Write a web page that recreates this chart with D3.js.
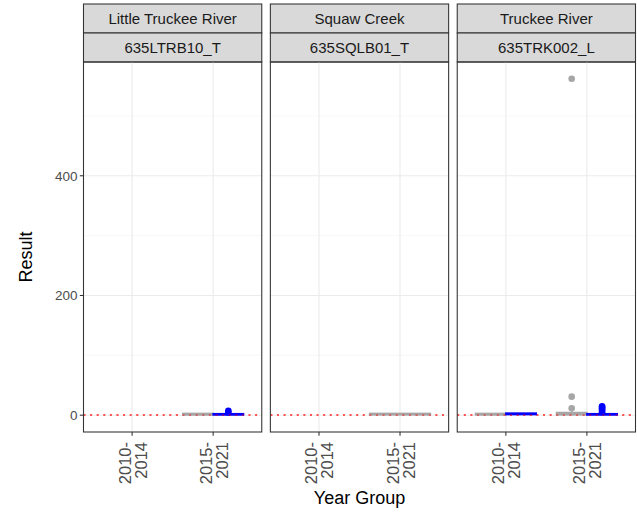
<!DOCTYPE html>
<html><head><meta charset="utf-8">
<script src="https://cdn.jsdelivr.net/npm/d3@7"></script>
<style>body{margin:0;background:#fff}svg{display:block;font-family:"Liberation Sans",Arial,sans-serif}</style>
</head><body><svg id="c" width="637" height="513"></svg>
<script>
// ---- data ----
const sites = ["Little Truckee River", "Squaw Creek", "Truckee River"];
const stations = ["635LTRB10_T", "635SQLB01_T", "635TRK002_L"];
const yearGroups = ["2010-2014", "2015-2021"];
const seriesNames = ["grey", "blue"];
const seriesColors = ["#a6a6a6", "#0000ff"];
const yTicks = [0, 200, 400];
const yMinor = [100, 300, 500];
const threshold = 0.2;
// box statistics: station, yearGroup, series, low whisker, q1, median, q3, high whisker
const boxStats = [
  ["635LTRB10_T", "2015-2021", "grey", 0.2, 0.3, 1.5, 3.0, 3.2],
  ["635LTRB10_T", "2015-2021", "blue", 0.2, 0.3, 1.0, 2.5, 3.5],
  ["635SQLB01_T", "2015-2021", "grey", 0.4, 0.5, 1.8, 3.0, 3.3],
  ["635TRK002_L", "2010-2014", "grey", 0.2, 0.3, 1.5, 3.0, 3.4],
  ["635TRK002_L", "2010-2014", "blue", 0.8, 1.0, 2.2, 3.5, 3.8],
  ["635TRK002_L", "2015-2021", "grey", 0.3, 0.5, 2.0, 4.5, 6.5],
  ["635TRK002_L", "2015-2021", "blue", 0.2, 0.3, 1.0, 2.5, 3.5]
];
// outliers: station, yearGroup, series, value
const outliers = [
  ["635LTRB10_T", "2015-2021", "blue", 4.5],
  ["635LTRB10_T", "2015-2021", "blue", 7.2],
  ["635TRK002_L", "2015-2021", "grey", 11.6],
  ["635TRK002_L", "2015-2021", "grey", 31],
  ["635TRK002_L", "2015-2021", "grey", 562],
  ["635TRK002_L", "2015-2021", "blue", 5],
  ["635TRK002_L", "2015-2021", "blue", 7.5],
  ["635TRK002_L", "2015-2021", "blue", 9.5],
  ["635TRK002_L", "2015-2021", "blue", 11.5],
  ["635TRK002_L", "2015-2021", "blue", 13.5],
  ["635TRK002_L", "2015-2021", "blue", 15]
];

// ---- layout ----
const svg = d3.select("#c");
const L = 83.5, R = 635.5, gap = 8.6;
const pw = (R - L - 2 * gap) / 3;
const stripTop = 4, stripH = 29, panelTop = 62, panelBot = 432;

const allVals = boxStats.flatMap(d => [d[3], d[7]]).concat(outliers.map(d => d[3]), [0]);
const ymin = 0, ymax = d3.max(allVals);
const pad = (ymax - ymin) * 0.05;
const y = d3.scaleLinear().domain([ymin - pad, ymax + pad]).range([panelBot, panelTop]);

// discrete x scale: expansion 0.6 on each side
const x = d3.scalePoint().domain(yearGroups).range([0.6, 1.6]);
const xs = d3.scaleLinear().domain([0, 2.2]).range([0, pw]);
const xpos = g => xs(x(g));
const unit = pw / 2.2;

const colorOf = s => seriesColors[seriesNames.indexOf(s)];

stations.forEach((st, i) => {
  const g = svg.append("g").attr("transform", `translate(${L + i * (pw + gap)},0)`);
  // strips
  [0, 1].forEach(k => g.append("rect").attr("x", 0).attr("y", stripTop + k * stripH).attr("width", pw).attr("height", stripH)
    .attr("fill", "#d9d9d9").attr("stroke", "#333333").attr("stroke-width", 1.07));
  g.append("text").attr("x", pw / 2).attr("y", stripTop + stripH / 2 + 5.3).attr("text-anchor", "middle")
    .attr("font-size", 15).attr("fill", "#1a1a1a").text(sites[i]);
  g.append("text").attr("x", pw / 2).attr("y", stripTop + stripH * 1.5 + 5.3).attr("text-anchor", "middle")
    .attr("font-size", 15).attr("fill", "#1a1a1a").text(st);
  // grid
  yMinor.forEach(v => g.append("line").attr("x1", 0).attr("x2", pw).attr("y1", y(v)).attr("y2", y(v))
    .attr("stroke", "#f3f3f3").attr("stroke-width", 0.6));
  yTicks.forEach(v => g.append("line").attr("x1", 0).attr("x2", pw).attr("y1", y(v)).attr("y2", y(v))
    .attr("stroke", "#ebebeb").attr("stroke-width", 1.1));
  yearGroups.forEach(yg => g.append("line").attr("x1", xpos(yg)).attr("x2", xpos(yg))
    .attr("y1", panelTop).attr("y2", panelBot).attr("stroke", "#ebebeb").attr("stroke-width", 1.1));
  // threshold line (drawn under boxes)
  g.append("line").attr("x1", 0).attr("x2", pw).attr("y1", y(threshold)).attr("y2", y(threshold))
    .attr("stroke", "#ff0000").attr("stroke-opacity", 0.6).attr("stroke-width", 1.5).attr("stroke-dasharray", "2,4.6");
  // boxes
  yearGroups.forEach(yg => {
    const here = boxStats.filter(d => d[0] === st && d[1] === yg);
    const n = here.length;
    const w = 0.75 * unit / n;
    here.forEach((d, k) => {
      const cx = xpos(yg) - 0.75 * unit / 2 + w * (k + 0.5);
      const col = colorOf(d[2]);
      g.append("line").attr("x1", cx).attr("x2", cx).attr("y1", y(d[3])).attr("y2", y(d[7]))
        .attr("stroke", col).attr("stroke-width", 1.5);
      g.append("rect").attr("x", cx - w / 2).attr("width", w).attr("y", y(d[6])).attr("height", Math.max(0.5, y(d[4]) - y(d[6])))
        .attr("fill", col).attr("stroke", col).attr("stroke-width", 1.5);
      outliers.filter(o => o[0] === st && o[1] === yg && o[2] === d[2]).forEach(o => {
        g.append("circle").attr("cx", cx).attr("cy", y(o[3])).attr("r", 3.3).attr("fill", col);
      });
    });
  });
  // red dots on top as well (visible through boxes in reference)
  g.append("line").attr("x1", 0).attr("x2", pw).attr("y1", y(threshold)).attr("y2", y(threshold))
    .attr("stroke", "#ff0000").attr("stroke-opacity", 0.5).attr("stroke-width", 1.5).attr("stroke-dasharray", "2,4.6");
  // border
  g.append("rect").attr("x", 0).attr("y", panelTop).attr("width", pw).attr("height", panelBot - panelTop)
    .attr("fill", "none").attr("stroke", "#333333").attr("stroke-width", 1.07);
  // x ticks + labels
  yearGroups.forEach(yg => {
    g.append("line").attr("x1", xpos(yg)).attr("x2", xpos(yg)).attr("y1", panelBot).attr("y2", panelBot + 3.7)
      .attr("stroke", "#333333").attr("stroke-width", 1.07);
    const parts = yg.split("-");
    const t = g.append("text").attr("transform", `translate(${xpos(yg)},${panelBot + 10}) rotate(-90)`)
      .attr("text-anchor", "end").attr("font-size", 16.5).attr("fill", "#4d4d4d");
    t.append("tspan").attr("x", 0).attr("y", -1.5).text(parts[0] + "-");
    t.append("tspan").attr("x", 0).attr("y", 14.5).text(parts[1]);
  });
});

// y axis
const ya = svg.append("g");
yTicks.forEach(v => {
  ya.append("line").attr("x1", L - 3.7).attr("x2", L).attr("y1", y(v)).attr("y2", y(v))
    .attr("stroke", "#333333").attr("stroke-width", 1.07);
  ya.append("text").attr("x", L - 6).attr("y", y(v) + 4.8).attr("text-anchor", "end")
    .attr("font-size", 13.5).attr("fill", "#4d4d4d").text(v);
});
svg.append("text").attr("transform", `translate(31.5,257) rotate(-90)`).attr("text-anchor", "middle")
  .attr("font-size", 18).attr("fill", "#000").text("Result");
svg.append("text").attr("x", (L + R) / 2).attr("y", 504).attr("text-anchor", "middle")
  .attr("font-size", 18).attr("fill", "#000").text("Year Group");
</script></body></html>
